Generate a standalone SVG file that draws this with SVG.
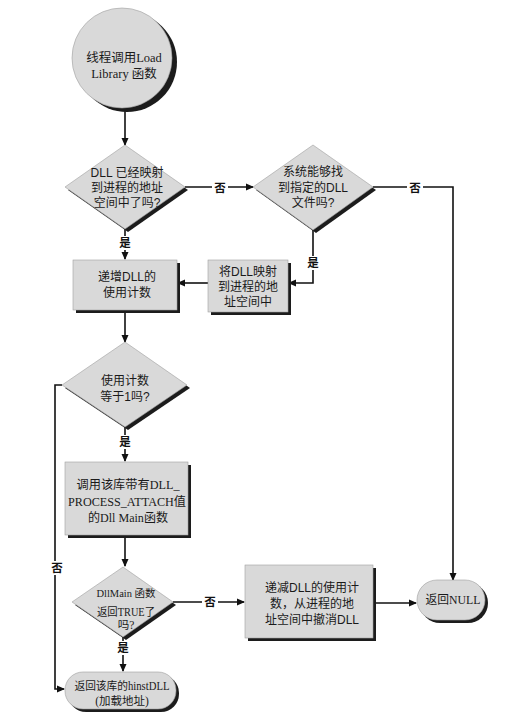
<svg xmlns="http://www.w3.org/2000/svg" width="508" height="725" viewBox="0 0 508 725">
<defs>
<marker id="ah" markerWidth="8" markerHeight="8" refX="7" refY="4" orient="auto" markerUnits="userSpaceOnUse">
<path d="M0,0.5 L8,4 L0,7.5 Z" fill="#111"/>
</marker>
<filter id="soft" x="-10%" y="-10%" width="130%" height="130%">
<feGaussianBlur stdDeviation="0.7"/>
</filter>
</defs>
<style>
.face{fill:#d9d9d9;stroke:#a0a0a0;stroke-width:0.6}
.shadow{fill:#1c1c1c;filter:url(#soft)}
.line{fill:none;stroke:#111;stroke-width:1.6}
.arr{marker-end:url(#ah)}
.sans{font-family:"Liberation Sans","Noto Sans CJK SC",sans-serif;font-size:12px;fill:#1a1a1a;text-anchor:middle}
.serif{font-family:"Liberation Serif","Noto Sans CJK SC",serif;font-size:12.5px;fill:#1a1a1a;text-anchor:middle}
.lbl{font-family:"Noto Sans CJK SC",sans-serif;font-size:11.5px;fill:#111;text-anchor:middle;font-weight:bold}
.lblbg{fill:#ffffff}
</style>
<rect x="0" y="0" width="508" height="725" fill="#ffffff"/>

<g id="connectors">
<path class="line arr" d="M125,110 L125,145"/>
<path class="line arr" d="M185,187 L253,187"/>
<path class="line arr" d="M373,187 L453,187 L453,580"/>
<path class="line arr" d="M125,229 L125,259"/>
<path class="line arr" d="M313,230 L313,283 L289,283"/>
<path class="line arr" d="M208,283 L178,283"/>
<path class="line arr" d="M125,311 L125,342"/>
<path class="line arr" d="M125,427 L125,461"/>
<path class="line arr" d="M62,385 L55,385 L55,689 L64,689"/>
<path class="line arr" d="M125,536 L125,566"/>
<path class="line arr" d="M173,602 L244,602"/>
<path class="line arr" d="M373,603 L416,603"/>
<path class="line arr" d="M123,637 L123,671"/>
<rect class="lblbg" x="212" y="181" width="16" height="14"/>
<text class="lbl" x="220" y="192">否</text>
<rect class="lblbg" x="407" y="181" width="16" height="14"/>
<text class="lbl" x="415" y="192">否</text>
<rect class="lblbg" x="117" y="236" width="16" height="14"/>
<text class="lbl" x="125" y="247">是</text>
<rect class="lblbg" x="305" y="256" width="16" height="14"/>
<text class="lbl" x="313" y="267">是</text>
<rect class="lblbg" x="117" y="435" width="16" height="14"/>
<text class="lbl" x="125" y="446">是</text>
<rect class="lblbg" x="49" y="561" width="16" height="14"/>
<text class="lbl" x="57" y="572">否</text>
<rect class="lblbg" x="202" y="595" width="16" height="14"/>
<text class="lbl" x="210" y="606">否</text>
<rect class="lblbg" x="115" y="641" width="16" height="14"/>
<text class="lbl" x="123" y="652">是</text>
</g>

<g id="start">
<circle class="shadow" cx="127" cy="62" r="50"/>
<circle class="face" cx="122" cy="58" r="50"/>
<text class="serif" x="124" y="62">线程调用Load</text>
<text class="serif" x="124" y="78">Library 函数</text>
</g>

<g id="d1">
<polygon class="shadow" points="128,148 188,190 128,232 68,190"/>
<polygon class="face" points="125,145 185,187 125,229 65,187"/>
<text class="sans" x="127" y="177">DLL 已经映射</text>
<text class="sans" x="127" y="192">到进程的地址</text>
<text class="sans" x="127" y="207">空间中了吗?</text>
</g>

<g id="d2">
<polygon class="shadow" points="316,148 376,190 316,233 256,190"/>
<polygon class="face" points="313,145 373,187 313,230 253,187"/>
<text class="sans" x="313" y="176">系统能够找</text>
<text class="sans" x="313" y="192">到指定的DLL</text>
<text class="sans" x="313" y="207">文件吗?</text>
</g>

<g id="r1">
<rect class="shadow" x="76" y="263" width="104" height="50"/>
<rect class="face" x="73" y="260" width="104" height="50"/>
<text class="sans" x="127" y="281">递增DLL的</text>
<text class="sans" x="127" y="297">使用计数</text>
</g>

<g id="r2">
<rect class="shadow" x="211" y="263" width="80" height="52"/>
<rect class="face" x="208" y="260" width="80" height="52"/>
<text class="sans" x="248" y="276">将DLL映射</text>
<text class="sans" x="248" y="291">到进程的地</text>
<text class="sans" x="248" y="306">址空间中</text>
</g>

<g id="d3">
<polygon class="shadow" points="128,345 190,388 128,430 65,388"/>
<polygon class="face" points="125,342 187,385 125,427 62,385"/>
<text class="sans" x="125" y="385">使用计数</text>
<text class="sans" x="125" y="401">等于1吗?</text>
</g>

<g id="r3">
<rect class="shadow" x="68" y="465" width="123" height="73"/>
<rect class="face" x="65" y="462" width="123" height="73"/>
<text class="serif" x="128" y="489" textLength="103" lengthAdjust="spacingAndGlyphs">调用该库带有DLL_</text>
<text class="serif" x="127" y="506" textLength="118" lengthAdjust="spacingAndGlyphs">PROCESS_ATTACH值</text>
<text class="serif" x="128" y="522" textLength="80" lengthAdjust="spacingAndGlyphs">的Dll Main函数</text>
</g>

<g id="d4">
<polygon class="shadow" points="126,570 176,605 126,640 75,605"/>
<polygon class="face" points="123,567 173,602 123,637 72,602"/>
<text class="serif" x="126" y="597" style="font-size:10.5px">DllMain 函数</text>
<text class="serif" x="126" y="616" textLength="58" lengthAdjust="spacingAndGlyphs" style="font-size:11.5px">返回TRUE了</text>
<text class="serif" x="126" y="629" style="font-size:11.5px">吗?</text>
</g>

<g id="r4">
<rect class="shadow" x="248" y="568" width="128" height="73"/>
<rect class="face" x="245" y="565" width="128" height="73"/>
<text class="sans" x="312" y="592">递减DLL的使用计</text>
<text class="sans" x="312" y="608">数，从进程的地</text>
<text class="sans" x="312" y="624">址空间中撤消DLL</text>
</g>

<g id="retnull">
<rect class="shadow" x="420" y="583" width="68" height="40" rx="20"/>
<rect class="face" x="417" y="580" width="68" height="40" rx="20"/>
<text class="serif" x="453" y="604" textLength="55" lengthAdjust="spacingAndGlyphs">返回NULL</text>
</g>

<g id="rethinst">
<rect class="shadow" x="68" y="675" width="111" height="37" rx="18"/>
<rect class="face" x="65" y="672" width="111" height="37" rx="18"/>
<text class="serif" x="122" y="690" textLength="95" lengthAdjust="spacingAndGlyphs" style="font-size:11.5px">返回该库的hinstDLL</text>
<text class="serif" x="122" y="705" style="font-size:11.5px">(加载地址)</text>
</g>
</svg>
